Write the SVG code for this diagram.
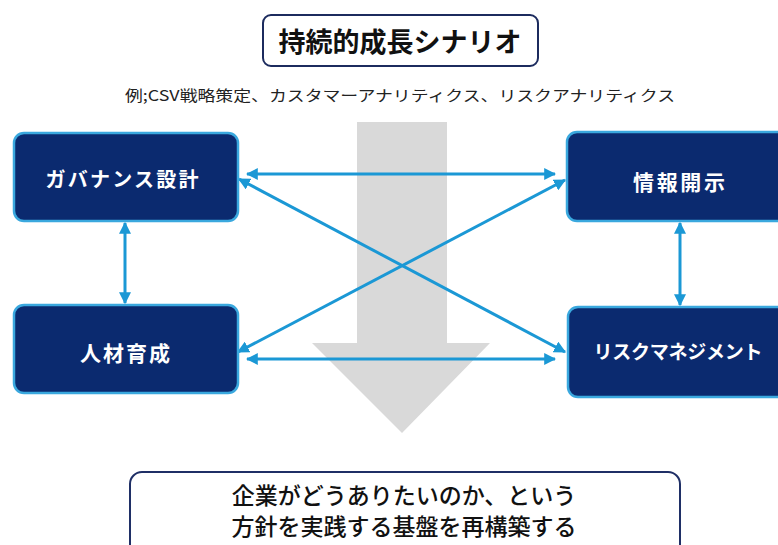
<svg xmlns="http://www.w3.org/2000/svg" width="778" height="545" viewBox="0 0 778 545">
<style>
text{font-family:"Noto Sans CJK JP","Noto Sans",sans-serif;text-anchor:middle}
.node rect{fill:#0b2a6f;stroke:#3aa8de;stroke-width:2.5}
.node text{fill:#fff;font-size:19px;font-weight:bold}
.node text.k{font-size:21px}
.conn line{stroke:#1b98d5;stroke-width:3;marker-start:url(#ah);marker-end:url(#ah)}
</style>
<defs>
<marker id="ah" viewBox="0 0 10 10" refX="9" refY="5" markerWidth="4" markerHeight="4" orient="auto-start-reverse" markerUnits="strokeWidth">
<path d="M0,0 L10,5 L0,10 z" fill="#1b98d5"/>
</marker>
</defs>
<rect width="778" height="545" fill="#fff"/>
<g id="title">
<rect x="263" y="15" width="275" height="51" rx="8" fill="#fff" stroke="#1c2b5e" stroke-width="2"/>
<text x="400" y="52" font-size="27" font-weight="bold" fill="#111">持続的成長シナリオ</text>
</g>
<g id="subtitle">
<text x="400" y="101" font-size="15" fill="#222" textLength="550" lengthAdjust="spacingAndGlyphs">例;CSV戦略策定、カスタマーアナリティクス、リスクアナリティクス</text>
</g>
<g id="flow-arrow">
<polygon points="357,122 447,122 447,343 490,343 402,433 312,343 357,343" fill="#d9d9d9"/>
</g>
<g id="connectors" class="conn">
<line x1="247" y1="174" x2="555" y2="174"/>
<line x1="247" y1="359" x2="555" y2="359"/>
<line x1="239" y1="179" x2="565" y2="352"/>
<line x1="238" y1="352" x2="565" y2="180"/>
<line x1="125" y1="223" x2="125" y2="303"/>
<line x1="680" y1="223" x2="680" y2="305"/>
</g>
<g id="governance" class="node">
<rect x="14" y="133" width="224" height="88" rx="10"/>
<text x="122" y="187" font-size="20" style="font-size:20px" textLength="153">ガバナンス設計</text>
</g>
<g id="disclosure" class="node">
<rect x="567" y="132" width="225" height="89" rx="10"/>
<text class="k" x="679" y="190" textLength="92">情報開示</text>
</g>
<g id="talent" class="node">
<rect x="14" y="305" width="224" height="88" rx="10"/>
<text class="k" x="125" y="361" textLength="90">人材育成</text>
</g>
<g id="risk" class="node">
<rect x="568" y="307" width="225" height="90" rx="10"/>
<text x="678" y="359" textLength="169">リスクマネジメント</text>
</g>
<g id="foundation">
<rect x="130" y="472" width="550" height="90" rx="12" fill="#fff" stroke="#1f2f66" stroke-width="2"/>
<text x="404" y="504" font-size="23" font-weight="500" fill="#111">企業がどうありたいのか、という</text>
<text x="404" y="535" font-size="23" font-weight="500" fill="#111">方針を実践する基盤を再構築する</text>
</g>
</svg>
